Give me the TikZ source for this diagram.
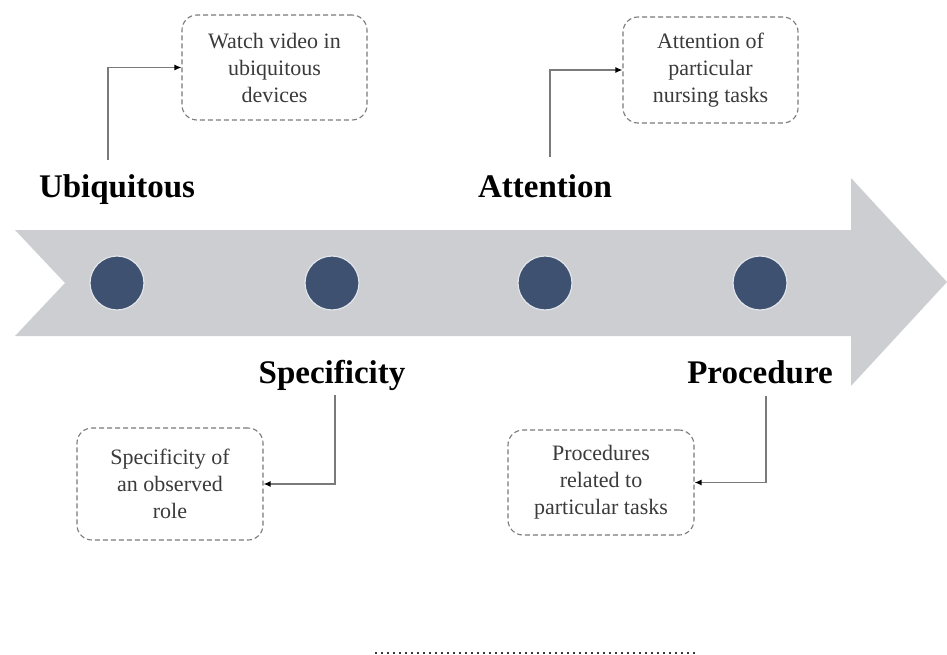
\documentclass[tikz,border=0pt]{standalone}
\usepackage{fontspec}
\setmainfont{Liberation Serif}
\usetikzlibrary{arrows.meta}
\definecolor{arrowgray}{HTML}{CDCED1}
\definecolor{dotblue}{HTML}{3F5170}
\definecolor{boxgray}{HTML}{7A7A7A}
\definecolor{txtgray}{HTML}{3A3A3A}
\tikzset{
  stage/.style={font=\fontsize{33}{36}\selectfont\bfseries, inner sep=0pt, anchor=base, text=black},
  dot/.style={circle, fill=dotblue, draw=white!85!dotblue, line width=1.2pt, minimum size=54pt, inner sep=0pt},
  infobox/.style={draw=boxgray, dash pattern=on 5pt off 3pt, line width=1.1pt, rounded corners=15pt,
     align=center, text=txtgray, font=\fontsize{22}{27}\selectfont, inner sep=0pt},
  conn/.style={draw=boxgray, line width=1.3pt, -{Latex[length=7pt,width=6pt,color=black]}},
}
\begin{document}
\begin{tikzpicture}[x=1pt,y=-1pt]
\useasboundingbox (0,0) rectangle (947,655);
% big arrow
\fill[arrowgray] (15,230) -- (851,230) -- (851,178) -- (947,282) -- (851,386) -- (851,336) -- (15,336) -- (65,283) -- cycle;
% dots
\node[dot] (d1) at (117,283) {};
\node[dot] (d2) at (332,283) {};
\node[dot] (d3) at (545,283) {};
\node[dot] (d4) at (760,283) {};
% stage labels
\node[stage] (ubi) at (117,197) {Ubiquitous};
\node[stage] (att) at (545,197) {Attention};
\node[stage] (spe) at (332,383) {Specificity};
\node[stage] (pro) at (760,383) {Procedure};
% boxes
\node[infobox, minimum width=185pt, minimum height=105pt] (b1) at (274.5,67.5) {Watch video in\\ubiquitous\\devices};
\node[infobox, minimum width=175pt, minimum height=106pt] (b2) at (710.5,70) {Attention of\\particular\\nursing tasks};
\node[infobox, minimum width=186pt, minimum height=112pt] (b3) at (170,484) {Specificity of\\an observed\\role};
\node[infobox, minimum width=186pt, minimum height=105pt] (b4) at (601,482.5) {Procedures\\related to\\particular tasks};
% connectors
\draw[conn] ([xshift=-9pt,yshift=14pt]ubi.north) |- (b1.west);
\draw[conn] ([xshift=5pt,yshift=17pt]att.north) |- (b2.west);
\draw[conn] ([xshift=3pt,yshift=-5pt]spe.south) |- (b3.east);
\draw[conn] ([xshift=6pt,yshift=-12pt]pro.south) |- (b4.east);
% dotted line
\coordinate (l1) at (375,653);
\coordinate (l2) at (695,653);
\draw[txtgray, line width=1.8pt, dash pattern=on 1.8pt off 4.2pt] (l1) -- (l2);
\end{tikzpicture}
\end{document}
